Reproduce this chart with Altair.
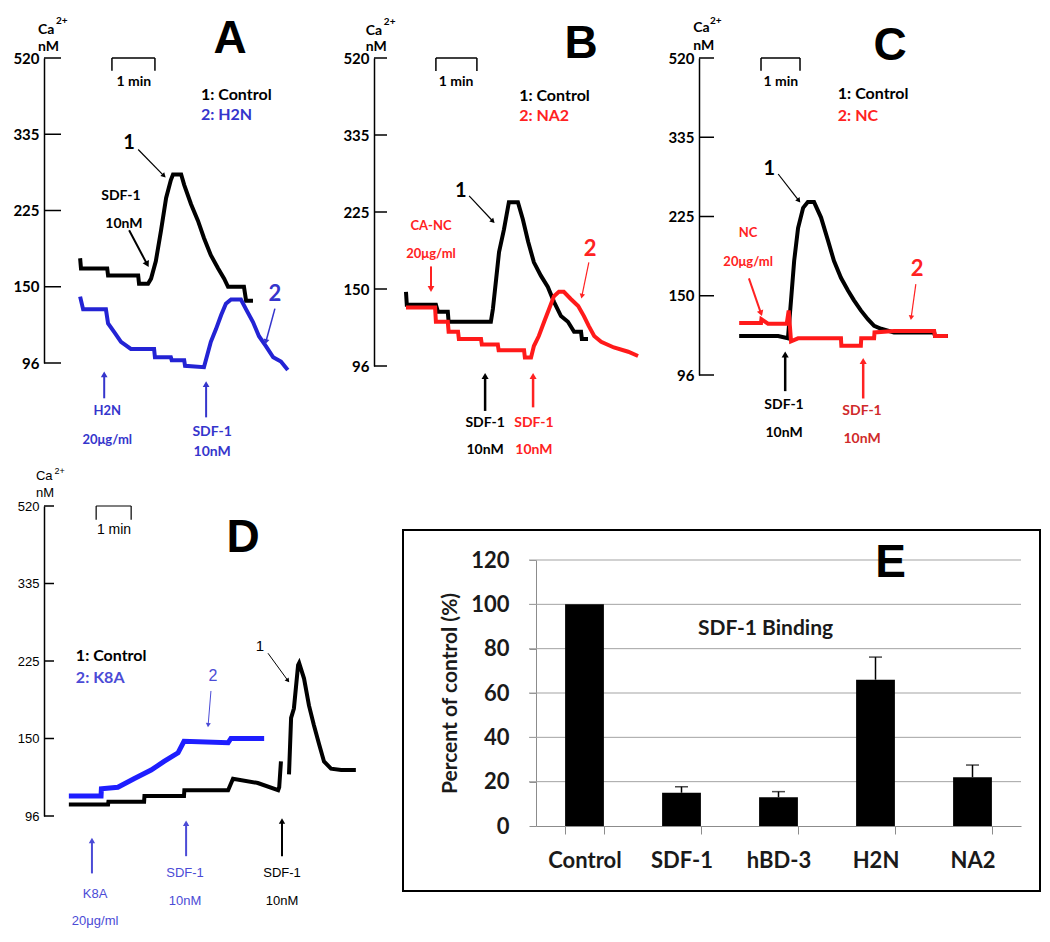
import altair as alt
import pandas as pd

# ---------------- data ----------------
TICKS = [96, 150, 225, 335, 520]

# Panel A (minutes, Ca2+ nM)
A_CTRL_T = [0.84, 0.86, 1.47, 1.49, 2.19, 2.21, 2.42, 2.49, 2.6, 2.72, 2.84, 2.95, 3.0, 3.19, 3.26, 3.42, 3.58, 3.72, 3.88, 4.05, 4.19, 4.28, 4.65, 4.7, 4.86]
A_CTRL_V = [178, 168, 168, 161, 161, 153, 153, 158, 175, 205, 243, 269, 277, 277, 262, 234, 215, 198, 181, 168, 158, 150, 150, 140, 140]
A_H2N_T = [0.84, 0.91, 1.44, 1.49, 1.63, 1.79, 2.02, 2.56, 2.58, 2.95, 2.97, 3.26, 3.28, 3.72, 3.88, 4.0, 4.12, 4.23, 4.35, 4.58, 4.7, 4.86, 5.0, 5.16, 5.33, 5.51, 5.67]
A_H2N_V = [143, 134, 134, 124, 118, 111, 106, 106, 100, 100, 98, 98, 94, 93, 111, 120, 130, 138, 141, 141, 134, 125, 115, 108, 100, 97, 91]

# Panel B
B_CTRL_T = [0.78, 0.8, 1.51, 1.56, 1.8, 1.82, 2.85, 2.9, 2.98, 3.05, 3.17, 3.29, 3.51, 3.63, 3.76, 3.9, 4.07, 4.24, 4.39, 4.56, 4.73, 4.88, 5.05, 5.07, 5.22]
B_CTRL_V = [148, 139, 139, 134, 134, 127, 127, 136, 160, 186, 208, 239, 239, 218, 196, 176, 163, 152, 141, 131, 127, 120, 120, 115, 115]
B_NA2_T = [0.78, 1.49, 1.51, 1.8, 1.82, 2.05, 2.07, 2.61, 2.63, 3.02, 3.04, 3.66, 3.68, 3.83, 3.9, 4.02, 4.15, 4.27, 4.39, 4.51, 4.63, 4.8, 4.98, 5.12, 5.24, 5.37, 5.54, 5.85, 6.2, 6.44]
B_NA2_V = [137, 137, 127, 127, 120, 120, 115, 115, 111, 111, 107, 107, 102, 102, 110, 117, 127, 136, 145, 148, 148, 143, 138, 131, 124, 117, 113, 109, 106, 103]

# Panel C
C_CTRL_T = [1.03, 2.03, 2.28, 2.36, 2.44, 2.54, 2.67, 2.79, 2.95, 3.13, 3.31, 3.46, 3.64, 3.82, 3.97, 4.15, 4.33, 4.49, 4.67, 5.0, 6.03, 6.05, 6.38]
C_CTRL_V = [122.5, 122.5, 121, 147, 183, 214, 237, 245, 245, 224, 202, 183, 167, 155, 147, 140, 134, 129.5, 127.5, 125, 125, 122.5, 122.5]
C_NC_T = [1.03, 1.59, 1.6, 1.77, 2.25, 2.3, 2.36, 2.54, 3.64, 3.65, 4.15, 4.16, 4.49, 4.5, 5.0, 6.03, 6.05, 6.38]
C_NC_V = [131.5, 131.5, 134, 131, 131, 140, 119, 121, 121, 116, 116, 121, 121, 125, 126, 126, 122.5, 122.5]

# Panel D (control trace has a gap: two segments)
D_CTRL1_T = [0.71, 1.83, 1.84, 2.86, 2.87, 4.0, 4.01, 5.26, 5.4, 6.11, 6.69, 6.72, 6.77]
D_CTRL1_V = [104, 104, 106, 106, 110, 110, 114, 114, 122, 119, 114, 116, 134]
D_CTRL2_T = [7.0, 7.06, 7.14, 7.26, 7.29, 7.43, 7.57, 7.71, 7.86, 8.0, 8.2, 8.49, 8.91]
D_CTRL2_V = [125, 170, 179, 221, 223, 208, 182, 163, 146, 134, 129, 128, 128]
D_K8A_T = [0.71, 1.63, 1.64, 2.11, 2.57, 3.06, 3.43, 3.83, 4.0, 5.26, 5.34, 6.29]
D_K8A_V = [110, 110, 115, 116, 122, 128, 134, 140, 148, 147, 150, 150]

# Panel E
E_CATS = ["Control", "SDF-1", "hBD-3", "H2N", "NA2"]
E_VALS = [100, 15, 13, 66, 22]
E_ERRS = [0, 2.7, 2.5, 10.2, 5.5]
E_GRID = [20, 40, 60, 80, 100, 120]

# ---------------- colours / fonts ----------------
BLK = "#000000"
BLUE_T = "#2323d4"
BLUE_TX = "#3535cc"
BLUE_D = "#1e1eff"
BLUE_DTX = "#4b4bd6"
RED = "#ff1a1a"
RED_TX = "#ff2222"
RED_DK = "#d02a2a"
LATO = "Lato"
ARIAL = "Liberation Sans"

# text rows: t, v, label, colour, size, font, weight, align
A_TEXT = [
    (-0.14, 588, "Ca", BLK, 14, LATO, "bold", "left"),
    (0.28, 610, "2+", BLK, 10, LATO, "bold", "left"),
    (-0.14, 547, "nM", BLK, 14, LATO, "bold", "left"),
    (4.33, 566, "A", BLK, 46, ARIAL, "bold", "center"),
    (2.09, 461, "1 min", BLK, 14, LATO, "bold", "center"),
    (3.65, 431, "1: Control", BLK, 16, LATO, "bold", "left"),
    (3.65, 381, "2: H2N", BLUE_TX, 16, LATO, "bold", "left"),
    (1.98, 323, "1", BLK, 20, LATO, "bold", "center"),
    (1.79, 246, "SDF-1", BLK, 14, LATO, "bold", "center"),
    (1.86, 212, "10nM", BLK, 14, LATO, "bold", "center"),
    (5.37, 145, "2", BLUE_TX, 22, LATO, "bold", "center"),
    (1.47, 61.8, "H2N", BLUE_TX, 13, LATO, "bold", "center"),
    (1.47, 41.8, "20\u03bcg/ml", BLUE_TX, 13, LATO, "bold", "center"),
    (3.91, 46.8, "SDF-1", BLUE_TX, 14, LATO, "bold", "center"),
    (3.91, 33.3, "10nM", BLUE_TX, 14, LATO, "bold", "center"),
]
B_TEXT = [
    (-0.2, 585, "Ca", BLK, 14, LATO, "bold", "left"),
    (0.24, 606, "2+", BLK, 10, LATO, "bold", "left"),
    (-0.2, 546, "nM", BLK, 14, LATO, "bold", "left"),
    (5.05, 554, "B", BLK, 46, ARIAL, "bold", "center"),
    (2.0, 462, "1 min", BLK, 14, LATO, "bold", "center"),
    (3.54, 429, "1: Control", BLK, 16, LATO, "bold", "left"),
    (3.54, 381, "2: NA2", RED_TX, 16, LATO, "bold", "left"),
    (2.12, 255, "1", BLK, 20, LATO, "bold", "center"),
    (1.39, 211.5, "CA-NC", RED_TX, 13, LATO, "bold", "center"),
    (1.39, 184, "20\u03bcg/ml", RED_TX, 13, LATO, "bold", "center"),
    (5.27, 189, "2", RED_TX, 22, LATO, "bold", "center"),
    (2.71, 56, "SDF-1", BLK, 14, LATO, "bold", "center"),
    (2.71, 37, "10nM", BLK, 14, LATO, "bold", "center"),
    (3.9, 56, "SDF-1", RED_TX, 14, LATO, "bold", "center"),
    (3.9, 37, "10nM", RED_TX, 14, LATO, "bold", "center"),
]
C_TEXT = [
    (-0.15, 590, "Ca", BLK, 14, LATO, "bold", "left"),
    (0.28, 606, "2+", BLK, 10, LATO, "bold", "left"),
    (-0.15, 548, "nM", BLK, 14, LATO, "bold", "left"),
    (4.9, 548, "C", BLK, 46, ARIAL, "bold", "center"),
    (2.1, 464, "1 min", BLK, 14, LATO, "bold", "center"),
    (3.56, 436, "1: Control", BLK, 16, LATO, "bold", "left"),
    (3.56, 384, "2: NC", RED_TX, 16, LATO, "bold", "left"),
    (1.8, 291, "1", BLK, 20, LATO, "bold", "center"),
    (1.26, 209, "NC", RED_TX, 13, LATO, "bold", "center"),
    (1.26, 182, "20\u03bcg/ml", RED_TX, 13, LATO, "bold", "center"),
    (5.59, 175.5, "2", RED_TX, 22, LATO, "bold", "center"),
    (2.18, 75.6, "SDF-1", BLK, 14, LATO, "bold", "center"),
    (2.18, 56.5, "10nM", BLK, 14, LATO, "bold", "center"),
    (4.18, 71.5, "SDF-1", RED_DK, 14, LATO, "bold", "center"),
    (4.18, 52.5, "10nM", RED_DK, 14, LATO, "bold", "center"),
]
D_TEXT = [
    (-0.23, 592, "Ca", BLK, 13, ARIAL, "normal", "left"),
    (0.3, 603, "2+", BLK, 9, ARIAL, "normal", "left"),
    (-0.23, 551, "nM", BLK, 13, ARIAL, "normal", "left"),
    (5.69, 444, "D", BLK, 46, ARIAL, "bold", "center"),
    (2.0, 462, "1 min", BLK, 14, ARIAL, "normal", "center"),
    (0.91, 232, "1: Control", BLK, 16, LATO, "bold", "left"),
    (0.91, 208.5, "2: K8A", BLUE_DTX, 16, LATO, "bold", "left"),
    (4.83, 210.5, "2", BLUE_DTX, 16, ARIAL, "normal", "center"),
    (6.17, 247, "1", BLK, 15, ARIAL, "normal", "center"),
    (1.46, 42, "K8A", BLUE_DTX, 13, ARIAL, "normal", "center"),
    (1.46, 22.8, "20\u03bcg/ml", BLUE_DTX, 13, ARIAL, "normal", "center"),
    (4.03, 56, "SDF-1", BLUE_DTX, 13, ARIAL, "normal", "center"),
    (4.03, 36.8, "10nM", BLUE_DTX, 13, ARIAL, "normal", "center"),
    (6.8, 56, "SDF-1", BLK, 13, ARIAL, "normal", "center"),
    (6.8, 36.8, "10nM", BLK, 13, ARIAL, "normal", "center"),
]

# arrows: t1, v1, t2 (head), v2 (head), colour, stroke width, head angle, head size
A_ARROWS = [
    (2.19, 313, 2.79, 275, BLK, 1.2, 135, 30),
    (1.98, 205.5, 2.4, 172, BLK, 2, 152, 50),
    (5.37, 134.5, 5.16, 111, BLUE_TX, 1.5, 195, 35),
    (1.4, 71, 1.4, 88, BLUE_TX, 2, 0, 45),
    (3.77, 57.5, 3.77, 81, BLUE_TX, 2, 0, 45),
]
B_ARROWS = [
    (2.32, 248, 2.9, 216, BLK, 1.2, 136, 30),
    (1.39, 172, 1.39, 150, RED_TX, 2, 180, 45),
    (5.24, 176, 5.07, 145, RED_TX, 1.2, 192, 30),
    (2.71, 64.5, 2.71, 89, BLK, 2.5, 0, 50),
    (3.88, 67, 3.88, 89, RED_TX, 2.5, 0, 50),
]
C_ARROWS = [
    (2.03, 284, 2.56, 247, BLK, 1.2, 142, 30),
    (1.28, 166.5, 1.59, 138, RED_TX, 2, 161, 45),
    (5.56, 161, 5.44, 135, RED_TX, 1.2, 188, 30),
    (2.21, 85, 2.21, 110, BLK, 2.5, 0, 50),
    (4.21, 80, 4.21, 105.5, RED_TX, 2.5, 0, 50),
]
D_ARROWS = [
    (4.77, 196, 4.69, 163, BLUE_DTX, 1, 185, 25),
    (6.4, 236, 6.97, 206, BLK, 1, 143, 25),
    (1.37, 56, 1.37, 79, BLUE_DTX, 2, 0, 40),
    (4.06, 68, 4.06, 91, BLUE_DTX, 2, 0, 40),
    (6.8, 68, 6.8, 92.5, BLK, 2, 0, 40),
]
# "1 min" scale brackets: t1, v1, t2, v2
A_BRACKET = [(1.58, 520, 2.58, 520), (1.58, 520, 1.58, 489), (2.58, 520, 2.58, 489)]
B_BRACKET = [(1.51, 520, 2.51, 520), (1.51, 520, 1.51, 489), (2.51, 520, 2.51, 489)]
C_BRACKET = [(1.59, 520, 2.59, 520), (1.59, 520, 1.59, 490), (2.59, 520, 2.59, 490)]
D_BRACKET = [(1.49, 520, 2.49, 520), (1.49, 520, 1.49, 487), (2.49, 520, 2.49, 487)]


def series_df(t, v, seg=0):
    return pd.DataFrame({"t": t, "v": v, "i": list(range(len(t))), "seg": [seg] * len(t)})


def trace_panel(w, h, xmax, series, texts, arrows, bracket, lab_font, lab_weight,
                lab_size, tick_len, br_width):
    xs = alt.Scale(domain=[0, xmax], nice=False, zero=False)
    ys = alt.Scale(domain=TICKS, range=[h, h * 0.75, h * 0.5, h * 0.25, 0],
                   nice=False, zero=False)
    yax = alt.Axis(values=TICKS, ticks=False, domain=True, domainColor="black",
                   domainWidth=1.5, grid=False, labelFont=lab_font,
                   labelFontWeight=lab_weight, labelFontSize=lab_size,
                   labelColor="black", labelPadding=5, title=None)

    def X(f):
        return alt.X(f, type="quantitative", scale=xs, axis=None)

    def Y(f):
        return alt.Y(f, type="quantitative", scale=ys, axis=yax)

    layers = []
    layers.append(
        alt.Chart(pd.DataFrame({"v": TICKS})).mark_rule(color="black", strokeWidth=1.5)
        .encode(x=alt.value(0), x2=alt.value(tick_len), y=Y("v"))
    )
    for df, col, sw in series:
        layers.append(
            alt.Chart(df).mark_line(strokeWidth=sw, color=col)
            .encode(x=X("t"), y=Y("v"), detail="seg:N", order="i:Q")
        )
    bdf = pd.DataFrame(bracket, columns=["t1", "v1", "t2", "v2"])
    layers.append(
        alt.Chart(bdf).mark_rule(color="black", strokeWidth=br_width)
        .encode(x=X("t1"), y=Y("v1"), x2="t2:Q", y2="v2:Q")
    )
    adf = pd.DataFrame(arrows, columns=["t1", "v1", "t2", "v2", "color", "w", "ang", "hs"])
    layers.append(
        alt.Chart(adf).mark_rule()
        .encode(x=X("t1"), y=Y("v1"), x2="t2:Q", y2="v2:Q",
                color=alt.Color("color:N", scale=None),
                size=alt.Size("w:Q", scale=None))
    )
    layers.append(
        alt.Chart(adf).mark_point(shape="triangle-up", filled=True, opacity=1)
        .encode(x=X("t2"), y=Y("v2"),
                color=alt.Color("color:N", scale=None),
                angle=alt.Angle("ang:Q", scale=None),
                size=alt.Size("hs:Q", scale=None))
    )
    tdf = pd.DataFrame(texts, columns=["t", "v", "label", "color", "size", "font", "weight", "align"])
    for (font, weight, align), g in tdf.groupby(["font", "weight", "align"], sort=False):
        layers.append(
            alt.Chart(g).mark_text(font=font, fontWeight=weight, align=align, baseline="middle")
            .encode(x=X("t"), y=Y("v"), text="label:N",
                    color=alt.Color("color:N", scale=None),
                    size=alt.Size("size:Q", scale=None))
        )
    return alt.layer(*layers).properties(width=w, height=h)


panel_a = trace_panel(
    310, 305, 310 / 43,
    [(series_df(A_CTRL_T, A_CTRL_V), BLK, 4), (series_df(A_H2N_T, A_H2N_V), BLUE_T, 4)],
    A_TEXT, A_ARROWS, A_BRACKET, LATO, "bold", 15, 17, 1.5)
panel_b = trace_panel(
    305, 308, 305 / 41,
    [(series_df(B_CTRL_T, B_CTRL_V), BLK, 4), (series_df(B_NA2_T, B_NA2_V), RED, 4)],
    B_TEXT, B_ARROWS, B_BRACKET, LATO, "bold", 15, 13, 1.5)
panel_c = trace_panel(
    260, 317, 260 / 39,
    [(series_df(C_CTRL_T, C_CTRL_V), BLK, 4), (series_df(C_NC_T, C_NC_V), RED, 4)],
    C_TEXT, C_ARROWS, C_BRACKET, LATO, "bold", 15, 15, 1.5)
d_ctrl = pd.concat([series_df(D_CTRL1_T, D_CTRL1_V, 0), series_df(D_CTRL2_T, D_CTRL2_V, 1)])
panel_d = trace_panel(
    338, 310, 338 / 35,
    [(d_ctrl, BLK, 4), (series_df(D_K8A_T, D_K8A_V), BLUE_D, 5)],
    D_TEXT, D_ARROWS, D_BRACKET, ARIAL, "normal", 13, 10, 1.2)

# ---------------- panel E ----------------
E_W, E_H = 639, 385
e_df = pd.DataFrame({"cat": E_CATS, "val": E_VALS, "err": E_ERRS})
e_df["hi"] = e_df["val"] + e_df["err"]
e_err = e_df[e_df["err"] > 0]
ex = alt.Scale(domain=E_CATS, range=[134, 619], paddingInner=0.6, paddingOuter=0.3)
ey = alt.Scale(domain=[0, 120], range=[320, 54], nice=False, zero=True)
e_xax = alt.Axis(title=None, labelAngle=0, tickBand="extent", domainColor="#8c8c8c",
                 tickColor="#8c8c8c", tickSize=8, labelFont=LATO, labelFontWeight="bold",
                 labelFontSize=22, labelColor="#1a1a1a", labelPadding=16, offset=-65)
e_yax = alt.Axis(values=[0, 20, 40, 60, 80, 100, 120], grid=False, domainColor="#8c8c8c",
                 tickColor="#8c8c8c", tickSize=7, labelFont=LATO, labelFontWeight="bold",
                 labelFontSize=22, labelColor="#1a1a1a", labelPadding=20,
                 title="Percent of control (%)", titleFont=LATO, titleFontWeight="bold",
                 titleFontSize=21, titleColor="#1a1a1a", titlePadding=10, offset=-134)

EX = alt.X("cat:N", scale=ex, axis=e_xax, sort=E_CATS)
EY = alt.Y("val:Q", scale=ey, axis=e_yax)

e_frame = alt.Chart(pd.DataFrame({"a": [0]})).mark_rect(
    fill="white", fillOpacity=0, stroke="black", strokeWidth=2
).encode(x=alt.value(1), x2=alt.value(E_W - 1), y=alt.value(24), y2=alt.value(E_H))
e_grid = alt.Chart(pd.DataFrame({"val": E_GRID})).mark_rule(color="#a3a3a3", strokeWidth=1).encode(
    x=alt.value(127), x2=alt.value(619), y=EY)
e_bars = alt.Chart(e_df).mark_bar(color="black").encode(x=EX, y=EY)
e_rule = alt.Chart(e_err).mark_rule(color="black", strokeWidth=1.5).encode(
    x=EX, y=EY, y2="hi:Q")
e_cap = alt.Chart(e_err).mark_tick(color="black", thickness=1.5, size=13).encode(
    x=EX, y=alt.Y("hi:Q", scale=ey, axis=e_yax))
e_label = alt.Chart(pd.DataFrame({"cat": ["hBD-3"], "val": [89], "label": ["SDF-1 Binding"]})).mark_text(
    font=LATO, fontWeight="bold", fontSize=21, color="#1a1a1a", dx=-13
).encode(x=EX, y=EY, text="label:N")
e_letter = alt.Chart(pd.DataFrame({"cat": ["H2N"], "val": [118.6], "label": ["E"]})).mark_text(
    font=ARIAL, fontWeight="bold", fontSize=46, color="black", dx=15, baseline="middle"
).encode(x=EX, y=EY, text="label:N")

panel_e = alt.layer(e_frame, e_grid, e_bars, e_rule, e_cap, e_label, e_letter).properties(
    width=E_W, height=E_H)

top = alt.hconcat(panel_a, panel_b, panel_c, spacing=20, bounds="flush")
bottom = alt.hconcat(panel_d, panel_e, spacing=20, bounds="flush")
chart = alt.vconcat(top, bottom, spacing=6).properties(
    padding={"left": 4, "top": 7, "right": 0, "bottom": 0}
).configure_view(stroke="transparent")

chart.save("out.html", embed_options={"renderer": "svg", "actions": False})
